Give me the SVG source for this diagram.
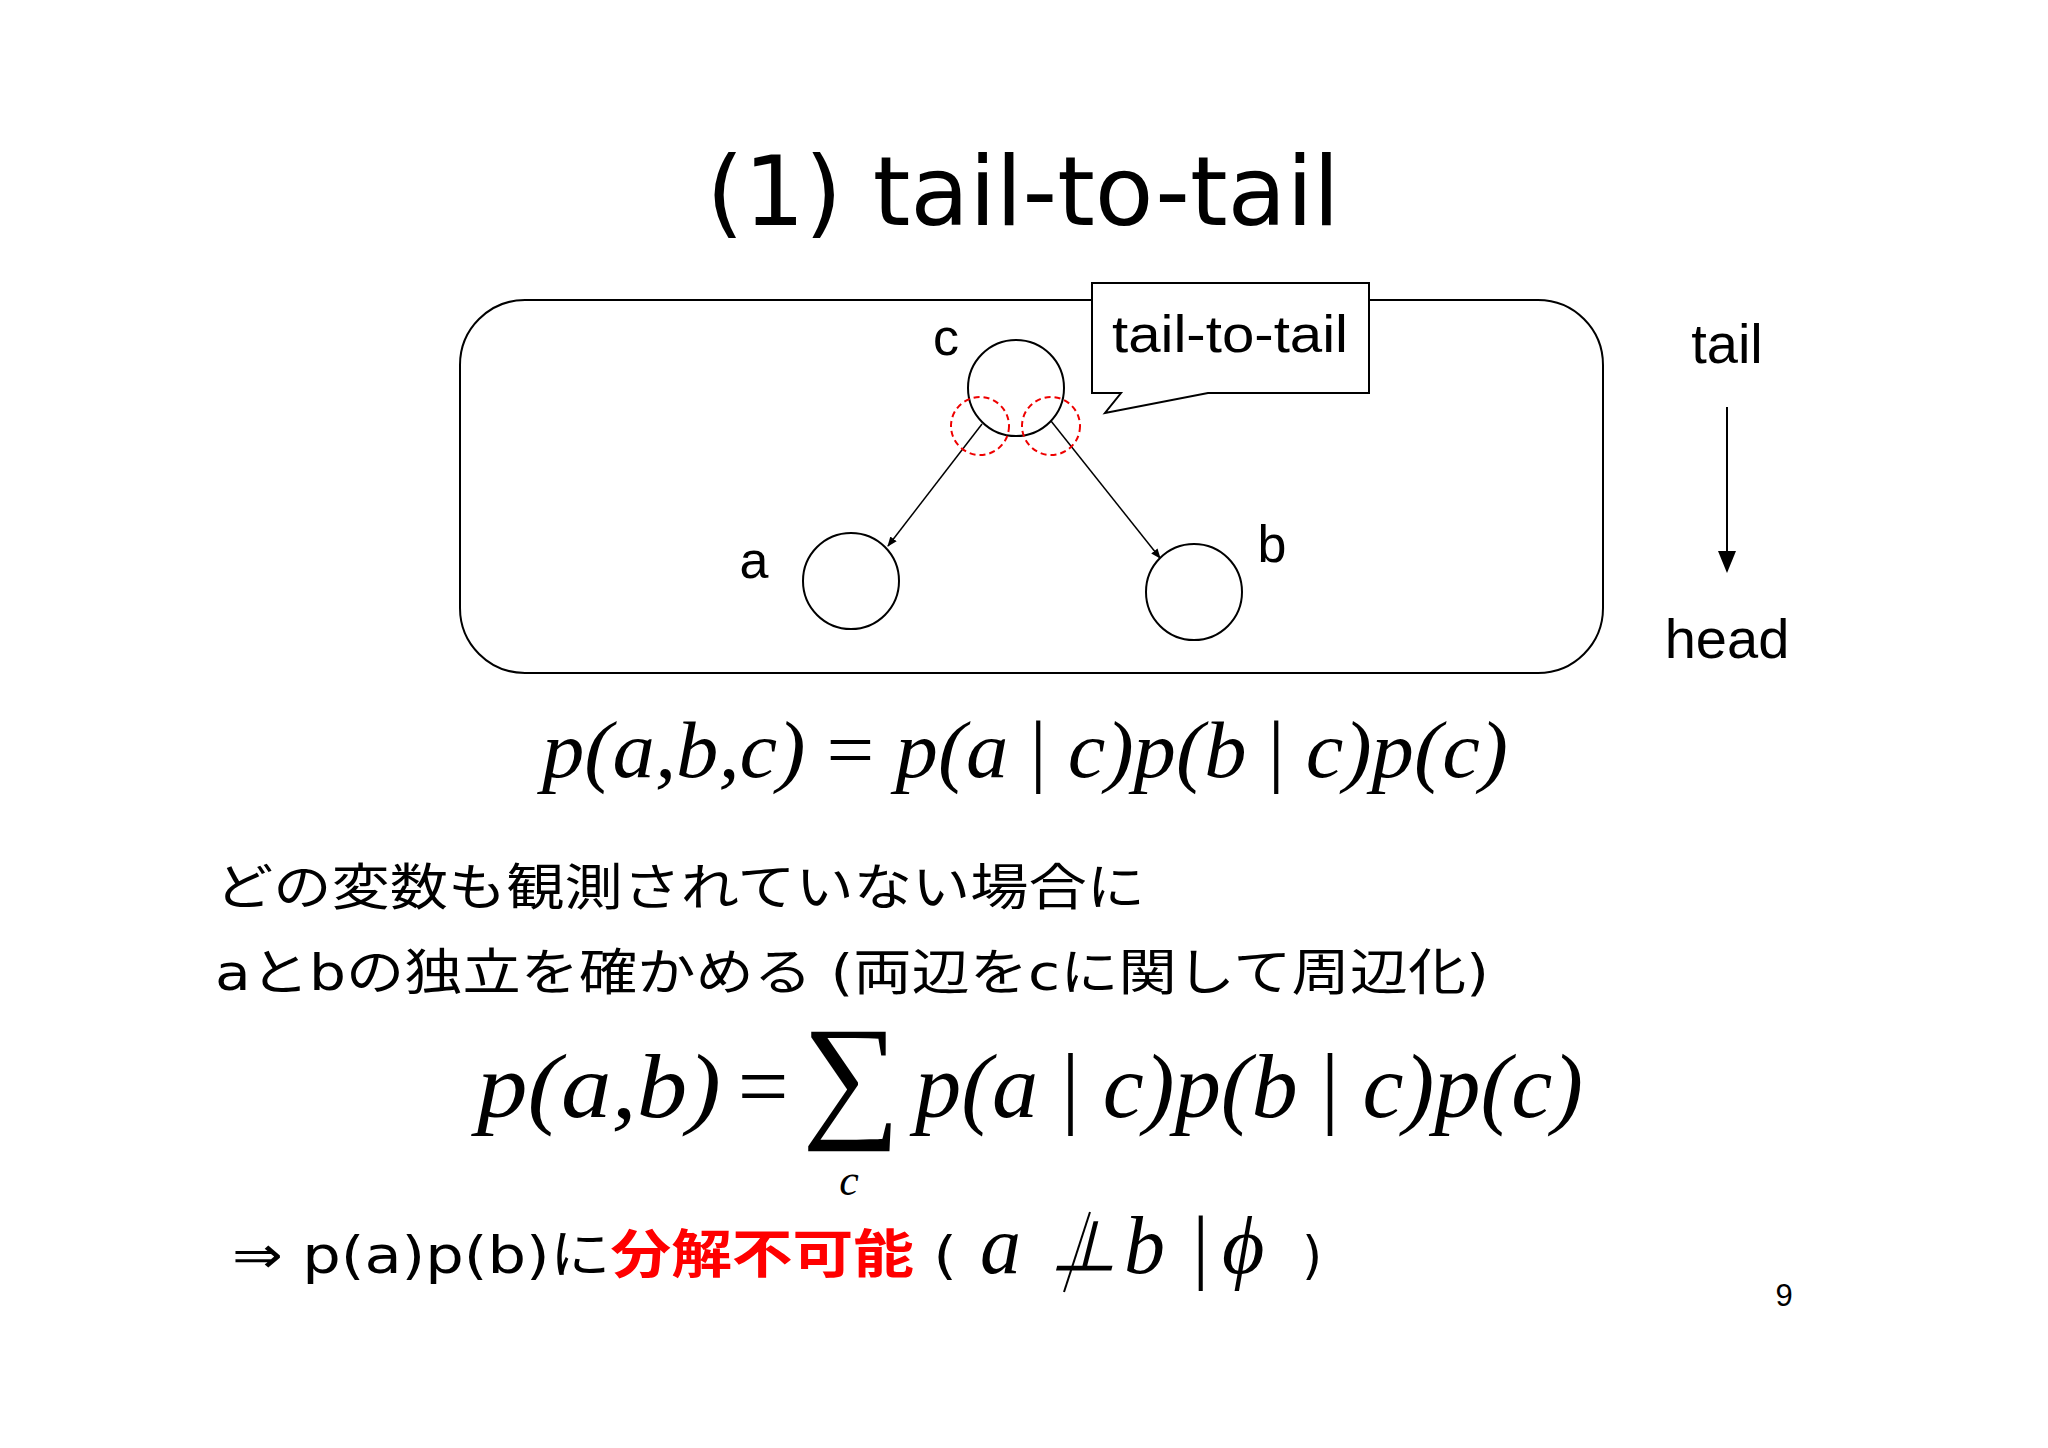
<svg xmlns="http://www.w3.org/2000/svg" width="2048" height="1448" viewBox="0 0 2048 1448">
<defs>
<style>
.s{font-family:"Liberation Sans","Noto Sans CJK JP",sans-serif;fill:#000}
.v{font-family:"DejaVu Sans","Noto Sans CJK JP",sans-serif;fill:#000}
.m{font-family:"Liberation Serif","Noto Sans CJK JP",serif;font-style:italic;fill:#000}
.n{fill:#fff;stroke:#000;stroke-width:2}
.d{fill:none;stroke:#e00;stroke-width:2;stroke-dasharray:6,4}
</style>
<marker id="ah" markerWidth="10" markerHeight="10" refX="9" refY="5" orient="auto" markerUnits="userSpaceOnUse" viewBox="0 0 10 10"><path d="M0,1 L10,5 L0,9 Z" fill="#000"/></marker>
<marker id="ah2" markerWidth="22" markerHeight="22" refX="20" refY="11" orient="auto" markerUnits="userSpaceOnUse" viewBox="0 0 22 22"><path d="M0,2 L22,11 L0,20 Z" fill="#000"/></marker>
</defs>
<rect width="2048" height="1448" fill="#fff"/>
<text class="v" x="1023" y="225" font-size="96" text-anchor="middle">(1) tail-to-tail</text>
<rect x="460" y="300" width="1143" height="373" rx="65" fill="none" stroke="#000" stroke-width="2"/>
<g id="callout">
<path d="M1092,283 H1369 V393 H1208 L1105,413 L1121,393 H1092 Z" fill="#fff" stroke="#000" stroke-width="2"/>
<text class="s" x="1230" y="352" font-size="52" text-anchor="middle" textLength="236" lengthAdjust="spacingAndGlyphs">tail-to-tail</text>
</g>
<g id="connectors">
<line x1="982" y1="424" x2="888" y2="546" stroke="#000" stroke-width="1.5" marker-end="url(#ah)"/>
<line x1="1051" y1="421" x2="1160" y2="558" stroke="#000" stroke-width="1.5" marker-end="url(#ah)"/>
</g>
<g id="node-c"><circle class="n" cx="1016" cy="388" r="48"/><text class="s" x="946" y="355" font-size="52" text-anchor="middle">c</text></g>
<g id="node-a"><circle class="n" cx="851" cy="581" r="48"/><text class="s" x="754" y="578" font-size="52" text-anchor="middle">a</text></g>
<g id="node-b"><circle class="n" cx="1194" cy="592" r="48"/><text class="s" x="1272" y="562" font-size="52" text-anchor="middle">b</text></g>
<circle class="d" cx="980" cy="426" r="29"/>
<circle class="d" cx="1051" cy="426" r="29"/>
<g id="legend">
<text class="s" x="1727" y="363" font-size="56" text-anchor="middle">tail</text>
<line x1="1727" y1="407" x2="1727" y2="571" stroke="#000" stroke-width="2" marker-end="url(#ah2)"/>
<text class="s" x="1727" y="658" font-size="56" text-anchor="middle">head</text>
</g>
<text class="m" x="542" y="777" font-size="80" textLength="966" lengthAdjust="spacingAndGlyphs">p(a,b,c)<tspan font-style="normal"> = </tspan>p(a <tspan font-style="normal">|</tspan> c)p(b <tspan font-style="normal">|</tspan> c)p(c)</text>
<text class="v" x="215" y="905" font-size="50" textLength="930" lengthAdjust="spacingAndGlyphs">どの変数も観測されていない場合に</text>
<text class="v" x="215" y="990" font-size="50" textLength="1274" lengthAdjust="spacingAndGlyphs">aとbの独立を確かめる (両辺をcに関して周辺化)</text>
<text class="m" x="477" y="1117" font-size="90" textLength="244" lengthAdjust="spacingAndGlyphs">p(a,b)</text>
<text class="m" x="732" y="1117" font-size="90" font-style="normal">=</text>
<text class="m" x="802" y="1122" font-size="138" font-style="normal">∑</text>
<text class="m" x="849" y="1195" font-size="44" text-anchor="middle">c</text>
<text class="m" x="915" y="1117" font-size="90" textLength="668" lengthAdjust="spacingAndGlyphs">p(a <tspan font-style="normal">|</tspan> c)p(b <tspan font-style="normal">|</tspan> c)p(c)</text>
<text class="v" x="232" y="1273" font-size="52" textLength="725" lengthAdjust="spacingAndGlyphs">⇒ p(a)p(b)に<tspan fill="#f00" font-weight="bold">分解不可能</tspan> (</text>
<text class="m" x="980" y="1273" font-size="82">a</text>
<text class="m" x="1048" y="1273" font-size="70" font-style="normal">⊥</text>
<line x1="1064" y1="1292" x2="1090" y2="1212" stroke="#000" stroke-width="2"/>
<text class="m" x="1124" y="1273" font-size="82">b</text>
<text class="m" x="1188" y="1273" font-size="82" font-style="normal">|</text>
<text class="m" x="1222" y="1273" font-size="82">ϕ</text>
<text class="v" x="1302" y="1273" font-size="52">)</text>
<text class="s" x="1784" y="1306" font-size="31" text-anchor="middle">9</text>
</svg>
